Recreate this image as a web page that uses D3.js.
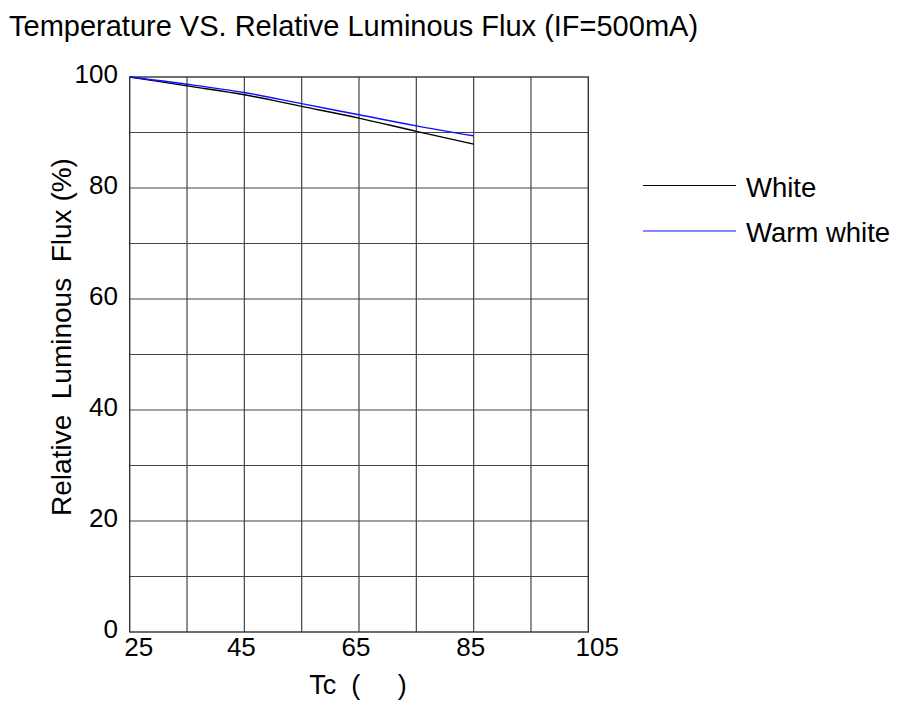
<!DOCTYPE html>
<html>
<head>
<meta charset="utf-8">
<script src="https://cdn.jsdelivr.net/npm/d3@7"></script>
<style>
  body { margin: 0; background: #fff; }
  svg { font-family: "Liberation Sans", Arial, sans-serif; }
</style>
</head>
<body>
<svg id="chart" width="903" height="715"></svg>
<script>
// readings
var temps = [25, 35, 45, 55, 65, 75, 85]
var white = [100, 98.4, 96.8, 94.7, 92.6, 90.2, 87.9]
var warmWhite = [100, 98.7, 97.2, 95.2, 93.2, 91.2, 89.4]

var xTicks = [25, 45, 65, 85, 105]
var yTicks = [0, 20, 40, 60, 80, 100]
var seriesNames = ['White', 'Warm white']
var seriesColors = ['#000000', '#1010ff']

var svg = d3.select('#chart')

var x = d3.scaleLinear().domain([25, 105]).range([129.7, 588.3])
var y = d3.scaleLinear().domain([0, 100]).range([632, 77])

// title
svg.append('text')
  .attr('x', 9)
  .attr('y', 36)
  .style('font-size', '29px')
  .text('Temperature VS. Relative Luminous Flux (IF=500mA)')

// grid
var grid = svg.append('g')
grid.selectAll('line.v')
  .data(d3.range(35, 105, 10))
  .enter().append('line')
  .attr('class', 'v')
  .attr('x1', d => x(d)).attr('x2', d => x(d))
  .attr('y1', y(0)).attr('y2', y(100))
  .style('stroke', '#444')
  .style('stroke-width', 1.2)

grid.selectAll('line.h')
  .data(d3.range(10, 100, 10))
  .enter().append('line')
  .attr('class', 'h')
  .attr('x1', x(25)).attr('x2', x(105))
  .attr('y1', d => y(d)).attr('y2', d => y(d))
  .style('stroke', '#444')
  .style('stroke-width', 1.2)

svg.append('rect')
  .attr('x', x(25))
  .attr('y', y(100))
  .attr('width', x(105) - x(25))
  .attr('height', y(0) - y(100))
  .style('fill', 'none')
  .style('stroke', '#333')
  .style('stroke-width', 1.4)

// tick labels
svg.selectAll('text.ytick')
  .data(yTicks)
  .enter().append('text')
  .attr('class', 'ytick')
  .attr('x', 118)
  .attr('y', d => y(d) + 6)
  .attr('text-anchor', 'end')
  .style('font-size', '26px')
  .text(d => d)

svg.selectAll('text.xtick')
  .data(xTicks)
  .enter().append('text')
  .attr('class', 'xtick')
  .attr('x', (d, i) => x(d) + ((i == 0 || i == xTicks.length - 1) ? 9 : -3))
  .attr('y', 656)
  .attr('text-anchor', 'middle')
  .style('font-size', '26px')
  .text(d => d)

// axis titles
svg.append('text')
  .attr('transform', 'translate(71,337) rotate(-90)')
  .attr('text-anchor', 'middle')
  .style('font-size', '28px')
  .style('white-space', 'pre')
  .text('Relative  Luminous  Flux (%)')

svg.append('text')
  .attr('x', 358)
  .attr('y', 694)
  .attr('text-anchor', 'middle')
  .style('font-size', '27px')
  .style('white-space', 'pre')
  .text('Tc  (     )')

// curves
var line = d3.line()
  .x((d, i) => x(temps[i]))
  .y(d => y(d))
  .curve(d3.curveMonotoneX)

var series = [white, warmWhite]
series.forEach(function (s, i) {
  svg.append('path')
    .datum(s)
    .attr('d', line)
    .style('fill', 'none')
    .style('stroke', seriesColors[i])
    .style('stroke-width', 1.4)
})

// legend
var legend = svg.append('g')
seriesNames.forEach(function (name, i) {
  var ly = 185.5 + i * 45.5
  legend.append('line')
    .attr('x1', 643).attr('x2', 736)
    .attr('y1', ly).attr('y2', ly)
    .style('stroke', seriesColors[i])
    .style('stroke-width', 1.2)
  legend.append('text')
    .attr('x', 746)
    .attr('y', ly + 11)
    .style('font-size', '27.5px')
    .text(name)
})
</script>
</body>
</html>
